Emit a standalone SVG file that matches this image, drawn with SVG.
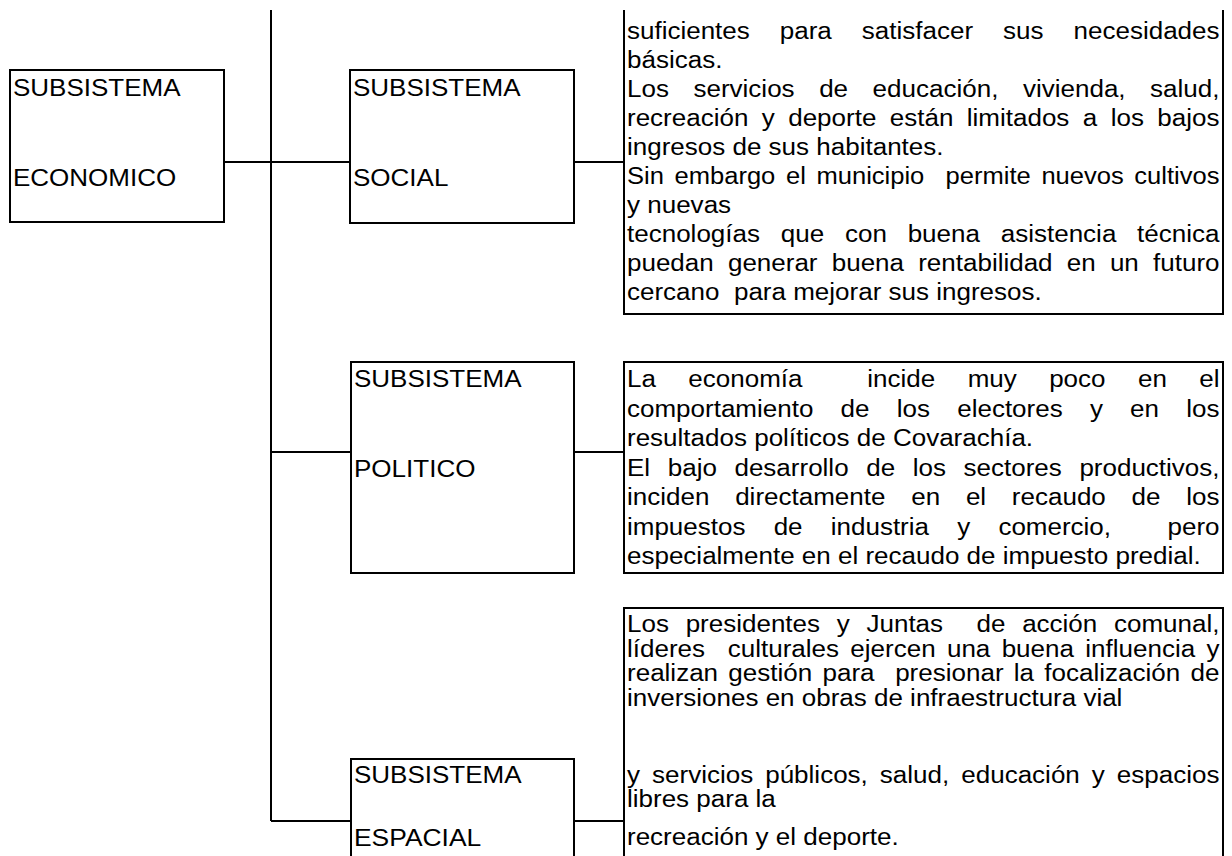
<svg xmlns="http://www.w3.org/2000/svg" width="1232" height="856" viewBox="0 0 1232 856">
<style>
.ln{fill:none;stroke:#000;stroke-width:2}
.t{font-family:"Liberation Sans",Arial,sans-serif;font-size:23px;fill:#000}
</style>
<rect width="1232" height="856" fill="#fff"/>
<g id="connectors" class="ln">
<path d="M271 10V821"/>
<path d="M224 162H350"/>
<path d="M574 162H624"/>
<path d="M271 452H351"/>
<path d="M574 452H624"/>
<path d="M271 821H351"/>
<path d="M574 821H624"/>
</g>
<g id="economico">
<rect class="ln" x="10" y="70" width="214" height="152"/>
<text class="t" x="13" y="96" textLength="167.6" lengthAdjust="spacingAndGlyphs">SUBSISTEMA</text>
<text class="t" x="13" y="186" textLength="163.2" lengthAdjust="spacingAndGlyphs">ECONOMICO</text>
</g>
<g id="social">
<rect class="ln" x="350" y="70" width="224" height="153"/>
<text class="t" x="353" y="96" textLength="167.6" lengthAdjust="spacingAndGlyphs">SUBSISTEMA</text>
<text class="t" x="353" y="186" textLength="95.4" lengthAdjust="spacingAndGlyphs">SOCIAL</text>
</g>
<g id="politico">
<rect class="ln" x="351" y="362" width="223" height="211"/>
<text class="t" x="354" y="387" textLength="167.6" lengthAdjust="spacingAndGlyphs">SUBSISTEMA</text>
<text class="t" x="354" y="477" textLength="121.4" lengthAdjust="spacingAndGlyphs">POLITICO</text>
</g>
<g id="espacial">
<path class="ln" d="M351 870V759H574V870"/>
<text class="t" x="354" y="783" textLength="167.6" lengthAdjust="spacingAndGlyphs">SUBSISTEMA</text>
<text class="t" x="354" y="846" textLength="127.2" lengthAdjust="spacingAndGlyphs">ESPACIAL</text>
</g>
<g id="social-text">
<path class="ln" d="M624 10V314H1223V10"/>
<text class="t" x="627" y="39" word-spacing="20.2" textLength="592.5" lengthAdjust="spacingAndGlyphs">suficientes para satisfacer sus necesidades</text>
<text class="t" x="627" y="68" textLength="95.4" lengthAdjust="spacingAndGlyphs">básicas.</text>
<text class="t" x="627" y="97" word-spacing="15.3" textLength="592.5" lengthAdjust="spacingAndGlyphs">Los servicios de educación, vivienda, salud,</text>
<text class="t" x="627" y="126" word-spacing="5.5" textLength="592.5" lengthAdjust="spacingAndGlyphs">recreación y deporte están limitados a los bajos</text>
<text class="t" x="627" y="155" textLength="316.5" lengthAdjust="spacingAndGlyphs">ingresos de sus habitantes.</text>
<text class="t" x="627" y="184" word-spacing="3.2" textLength="592.5" lengthAdjust="spacingAndGlyphs" xml:space="preserve">Sin embargo el municipio  permite nuevos cultivos</text>
<text class="t" x="627" y="213" textLength="104.1" lengthAdjust="spacingAndGlyphs">y nuevas</text>
<text class="t" x="627" y="242" word-spacing="12.0" textLength="592.5" lengthAdjust="spacingAndGlyphs">tecnologías que con buena asistencia técnica</text>
<text class="t" x="627" y="271" word-spacing="6.2" textLength="592.5" lengthAdjust="spacingAndGlyphs">puedan generar buena rentabilidad en un futuro</text>
<text class="t" x="627" y="300" textLength="414.7" lengthAdjust="spacingAndGlyphs" xml:space="preserve">cercano  para mejorar sus ingresos.</text>
</g>
<g id="politico-text">
<rect class="ln" x="624" y="362" width="599" height="211"/>
<text class="t" x="627" y="387" word-spacing="22.3" textLength="592.5" lengthAdjust="spacingAndGlyphs" xml:space="preserve">La economía  incide muy poco en el</text>
<text class="t" x="627" y="416.5" word-spacing="17.7" textLength="592.5" lengthAdjust="spacingAndGlyphs">comportamiento de los electores y en los</text>
<text class="t" x="627" y="446" textLength="406.1" lengthAdjust="spacingAndGlyphs">resultados políticos de Covarachía.</text>
<text class="t" x="627" y="475.5" word-spacing="9.2" textLength="592.5" lengthAdjust="spacingAndGlyphs">El bajo desarrollo de los sectores productivos,</text>
<text class="t" x="627" y="505" word-spacing="16.4" textLength="592.5" lengthAdjust="spacingAndGlyphs">inciden directamente en el recaudo de los</text>
<text class="t" x="627" y="534.5" word-spacing="18.6" textLength="592.5" lengthAdjust="spacingAndGlyphs" xml:space="preserve">impuestos de industria y comercio,  pero</text>
<text class="t" x="627" y="564" textLength="573.7" lengthAdjust="spacingAndGlyphs">especialmente en el recaudo de impuesto predial.</text>
</g>
<g id="espacial-text">
<path class="ln" d="M624 870V608H1223V870"/>
<text class="t" x="627" y="632" word-spacing="8.4" textLength="592.5" lengthAdjust="spacingAndGlyphs" xml:space="preserve">Los presidentes y Juntas  de acción comunal,</text>
<text class="t" x="627" y="657" word-spacing="3.6" textLength="592.5" lengthAdjust="spacingAndGlyphs" xml:space="preserve">líderes  culturales ejercen una buena influencia y</text>
<text class="t" x="627" y="681" word-spacing="2.7" textLength="592.5" lengthAdjust="spacingAndGlyphs" xml:space="preserve">realizan gestión para  presionar la focalización de</text>
<text class="t" x="627" y="706" textLength="495.4" lengthAdjust="spacingAndGlyphs">inversiones en obras de infraestructura vial</text>
<text class="t" x="627" y="783" word-spacing="4.2" textLength="592.5" lengthAdjust="spacingAndGlyphs">y servicios públicos, salud, educación y espacios</text>
<text class="t" x="627" y="807" textLength="148.8" lengthAdjust="spacingAndGlyphs">libres para la</text>
<text class="t" x="627" y="845" textLength="271.7" lengthAdjust="spacingAndGlyphs">recreación y el deporte.</text>
</g>
</svg>
